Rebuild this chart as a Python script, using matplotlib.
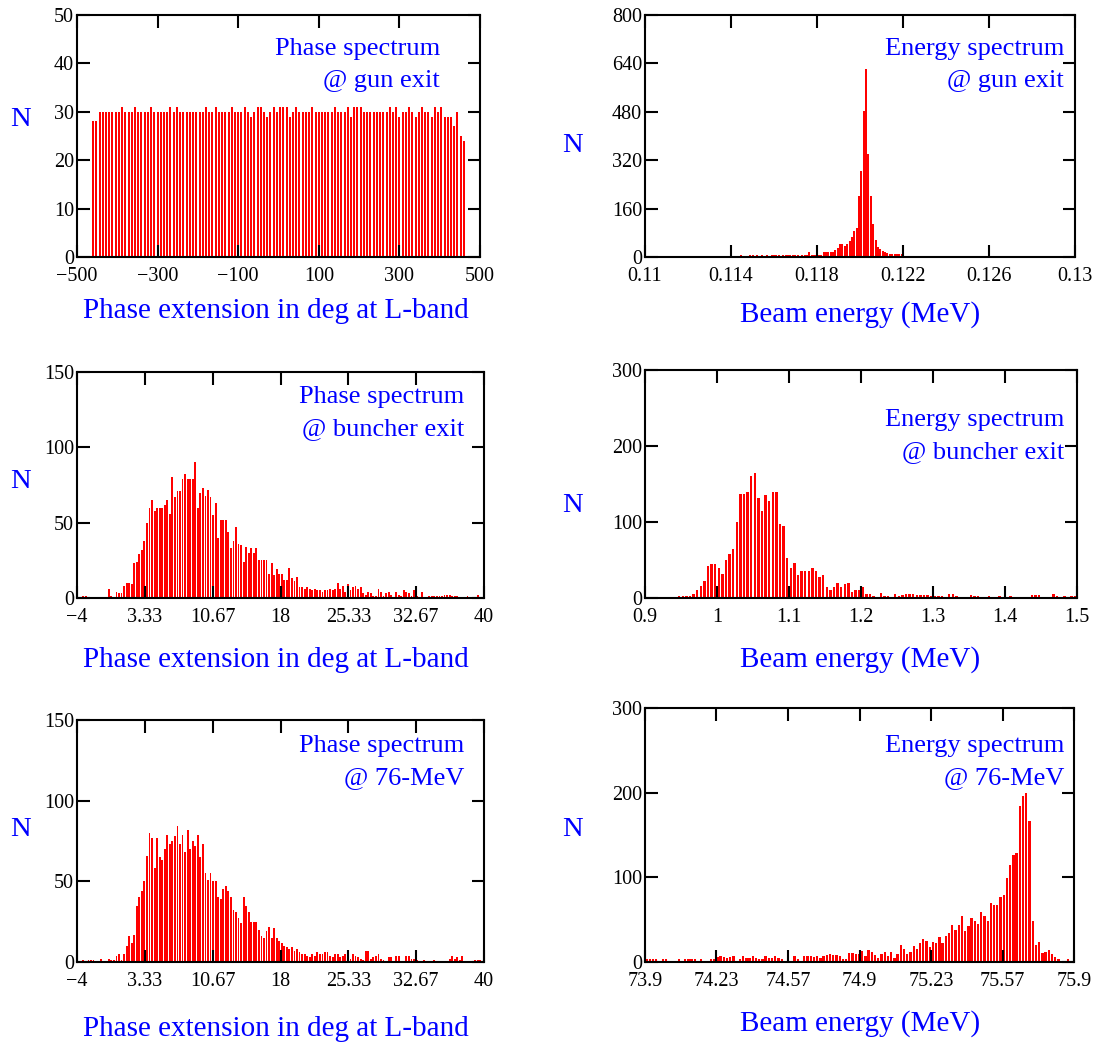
import numpy as np
import matplotlib.pyplot as plt
from matplotlib.ticker import FixedLocator

plt.rcParams['font.family'] = ['Liberation Serif', 'DejaVu Serif']

# ---------------- data: histogram counts per bin ----------------
# Phase at gun exit (deg), bins from -464 with width 8
phase_gun_start, phase_gun_width = -464.0, 8.0
phase_gun_counts = [
    28, 28, 30, 30, 30, 30, 30, 30, 30, 31,
    30, 30, 30, 31, 30, 30, 30, 30, 31, 30,
    30, 30, 30, 30, 31, 30, 31, 30, 30, 30,
    30, 30, 30, 30, 30, 31, 30, 30, 31, 30,
    30, 30, 30, 31, 30, 30, 30, 31, 30, 29,
    30, 31, 31, 30, 29, 30, 31, 30, 31, 31,
    31, 29, 30, 31, 30, 30, 30, 30, 31, 30,
    30, 30, 30, 30, 30, 31, 30, 30, 30, 31,
    29, 31, 31, 31, 30, 30, 30, 30, 30, 30,
    30, 30, 31, 30, 31, 29, 30, 30, 31, 30,
    29, 30, 31, 30, 30, 29, 31, 30, 31, 29,
    29, 29, 27, 30, 25, 24]

# Energy at gun exit (MeV)
energy_gun_start, energy_gun_width = 0.1144, 0.00011
energy_gun_counts = [
    8, 0, 0, 0, 8, 8, 0, 8, 0, 8,
    0, 8, 0, 8, 8, 8, 8, 0, 8, 8,
    8, 8, 8, 8, 8, 0, 8, 8, 8, 16,
    8, 8, 8, 8, 8, 16, 16, 16, 16, 18,
    22, 30, 42, 42, 35, 44, 52, 67, 86, 97,
    203, 283, 483, 622, 342, 203, 109, 56, 33, 28,
    19, 17, 14, 9, 9, 9, 9, 9, 9]

# Phase at buncher exit (deg)
phase_buncher_start, phase_buncher_width = -4.0, 0.275
phase_buncher_counts = [
    0, 0, 1, 1, 0, 0, 0, 0, 0, 0,
    0, 0, 6, 1, 0, 4, 3, 3, 8, 10,
    10, 9, 23, 24, 29, 32, 38, 50, 60, 65,
    58, 60, 60, 60, 62, 65, 56, 80, 67, 71,
    71, 79, 82, 79, 79, 79, 90, 60, 70, 73,
    68, 72, 67, 55, 63, 40, 52, 52, 52, 44,
    33, 38, 47, 36, 35, 24, 34, 30, 33, 30,
    33, 25, 25, 25, 25, 16, 23, 15, 19, 16,
    16, 12, 12, 20, 13, 11, 14, 7, 7, 6,
    7, 6, 5, 6, 5, 5, 4, 5, 5, 6,
    5, 6, 10, 6, 8, 4, 9, 5, 7, 8,
    6, 7, 3, 2, 4, 3, 1, 1, 6, 4,
    1, 3, 4, 2, 0, 4, 2, 1, 5, 4,
    3, 1, 5, 1, 0, 4, 0, 0, 1, 1,
    1, 1, 1, 1, 2, 2, 2, 1, 1, 1,
    0, 0, 0, 1, 0, 0, 0, 2, 0, 0]

# Energy at buncher exit (MeV)
energy_buncher_start, energy_buncher_width = 0.9, 0.005
energy_buncher_counts = [
    0, 0, 0, 0, 0, 0, 0, 0, 0, 2,
    2, 2, 2, 5, 10, 16, 23, 42, 45, 45,
    40, 32, 50, 58, 65, 100, 137, 137, 140, 160,
    164, 132, 115, 135, 127, 140, 140, 97, 95, 52,
    40, 46, 30, 35, 35, 35, 40, 35, 28, 30,
    14, 10, 15, 20, 14, 18, 20, 8, 10, 11,
    14, 5, 5, 3, 0, 6, 3, 2, 1, 5,
    3, 4, 5, 5, 5, 4, 4, 4, 4, 3,
    2, 3, 2, 0, 5, 5, 3, 1, 0, 0,
    4, 2, 3, 1, 0, 3, 1, 0, 3, 1,
    0, 3, 0, 1, 1, 0, 0, 4, 4, 4,
    1, 0, 0, 5, 2, 0, 2, 0, 2, 2]

# Phase at 76 MeV (deg)
phase_76_start, phase_76_width = -4.0, 0.275
phase_76_counts = [
    0, 0, 1, 0, 1, 1, 1, 0, 0, 2,
    0, 0, 2, 1, 1, 4, 5, 1, 5, 10,
    16, 12, 17, 35, 40, 44, 50, 66, 80, 77,
    58, 77, 65, 63, 70, 79, 73, 75, 78, 84,
    73, 79, 68, 82, 70, 75, 72, 79, 65, 73,
    55, 51, 55, 50, 50, 40, 39, 45, 47, 44,
    40, 32, 31, 27, 24, 40, 35, 31, 25, 25,
    25, 20, 16, 15, 19, 22, 15, 21, 15, 13,
    12, 10, 9, 8, 9, 7, 8, 6, 5, 5,
    4, 3, 5, 4, 6, 5, 5, 6, 6, 4,
    3, 5, 5, 3, 4, 5, 3, 2, 5, 4,
    3, 2, 1, 7, 7, 2, 3, 4, 5, 2,
    1, 0, 3, 3, 0, 4, 4, 0, 0, 4,
    4, 2, 2, 1, 0, 0, 1, 0, 0, 0,
    1, 0, 0, 0, 0, 0, 2, 4, 2, 3,
    1, 4, 0, 0, 0, 0, 1, 1, 1, 0]

# Energy at 76 MeV (MeV)
energy_76_start, energy_76_width = 73.9, 0.015
energy_76_counts = [
    3, 3, 3, 3, 0, 3, 3, 0, 0, 0,
    3, 0, 3, 4, 3, 3, 0, 3, 0, 0,
    3, 3, 6, 7, 6, 5, 6, 7, 0, 3,
    7, 5, 5, 7, 5, 3, 3, 7, 5, 5,
    7, 5, 3, 0, 5, 0, 7, 3, 0, 7,
    7, 7, 6, 7, 5, 7, 8, 10, 8, 8,
    7, 3, 4, 11, 11, 9, 10, 13, 7, 14,
    12, 8, 5, 10, 12, 7, 12, 5, 10, 20,
    15, 10, 12, 19, 15, 22, 27, 25, 18, 24,
    22, 30, 22, 31, 34, 44, 38, 44, 54, 37,
    42, 52, 49, 45, 59, 54, 49, 70, 67, 67,
    77, 79, 99, 114, 126, 129, 184, 196, 200, 166,
    49, 20, 24, 11, 12, 14, 9, 6, 3, 0,
    0, 3, 0]

# ---------------- axis ticks ----------------
phase_gun_ticks = [-500, -300, -100, 100, 300, 500]
phase_gun_labels = ['\u2212500', '\u2212300', '\u2212100', '100', '300', '500']
energy_gun_ticks = [0.11, 0.114, 0.118, 0.122, 0.126, 0.13]
energy_gun_labels = ['0.11', '0.114', '0.118', '0.122', '0.126', '0.13']
phase_ticks = [-4, 3.333, 10.667, 18, 25.333, 32.667, 40]
phase_labels = ['\u22124', '3.33', '10.67', '18', '25.33', '32.67', '40']
energy_buncher_ticks = [0.9, 1.0, 1.1, 1.2, 1.3, 1.4, 1.5]
energy_buncher_labels = ['0.9', '1', '1.1', '1.2', '1.3', '1.4', '1.5']
energy_76_ticks = [73.9, 74.233, 74.567, 74.9, 75.233, 75.567, 75.9]
energy_76_labels = ['73.9', '74.23', '74.57', '74.9', '75.23', '75.57', '75.9']

PHASE_LABEL = 'Phase extension in deg at L-band'
ENERGY_LABEL = 'Beam energy (MeV)'

W, H = 1097, 1047
fig = plt.figure(figsize=(W / 100, H / 100), dpi=100)
BLUE = '#0000ff'
RED = '#ff0000'


def add_panel(box, start, width, counts, xlim, ylim, yticks, xticks, xlabels,
              title_lines, title_pos, n_pos, xlabel, xlabel_pos, frac=0.72):
    x0, y0, x1, y1 = box
    ax = fig.add_axes([x0 / W, 1 - y1 / H, (x1 - x0) / W, (y1 - y0) / H])
    counts = np.asarray(counts, dtype=float)
    centers = start + (np.arange(len(counts)) + 0.5) * width
    ax.bar(centers, counts, width=width * frac, color=RED, linewidth=0, zorder=1)
    ax.set_xlim(*xlim)
    ax.set_ylim(*ylim)
    ax.xaxis.set_major_locator(FixedLocator(xticks))
    ax.set_xticklabels(xlabels)
    ax.yaxis.set_major_locator(FixedLocator(yticks))
    ax.set_yticklabels([str(v) for v in yticks])
    ax.tick_params(direction='in', length=9, width=1.5, top=True, right=True,
                   labelsize=14.5, colors='black')
    ax.tick_params(axis='x', pad=7.5)
    ax.tick_params(axis='y', pad=2)
    for sp in ax.spines.values():
        sp.set_linewidth(1.5)
    # caption inside the frame, right aligned
    tx, ty = title_pos
    for i, line in enumerate(title_lines):
        fig.text(tx / W, 1 - (ty + 32 * i) / H, line, color=BLUE, fontsize=19,
                 ha='right', va='center')
    fig.text(n_pos[0] / W, 1 - n_pos[1] / H, 'N', color=BLUE, fontsize=20.5,
             ha='center', va='center')
    fig.text(xlabel_pos[0] / W, 1 - xlabel_pos[1] / H, xlabel, color=BLUE,
             fontsize=21, ha='center', va='center')
    return ax


add_panel((77, 15, 480, 257), phase_gun_start, phase_gun_width, phase_gun_counts,
          (-500, 500), (0, 50), [0, 10, 20, 30, 40, 50],
          phase_gun_ticks, phase_gun_labels,
          ['Phase spectrum', '@ gun exit'], (440, 49), (20, 120),
          PHASE_LABEL, (276, 311), frac=0.62)

add_panel((645, 15, 1075, 257), energy_gun_start, energy_gun_width, energy_gun_counts,
          (0.11, 0.13), (0, 800), [0, 160, 320, 480, 640, 800],
          energy_gun_ticks, energy_gun_labels,
          ['Energy spectrum', '@ gun exit'], (1064, 49), (572, 145),
          ENERGY_LABEL, (860, 315), frac=0.85)

add_panel((77, 372, 484, 598), phase_buncher_start, phase_buncher_width, phase_buncher_counts,
          (-4, 40), (0, 150), [0, 50, 100, 150],
          phase_ticks, phase_labels,
          ['Phase spectrum', '@ buncher exit'], (464, 397), (20, 482),
          PHASE_LABEL, (276, 660))

add_panel((645, 370, 1077, 598), energy_buncher_start, energy_buncher_width, energy_buncher_counts,
          (0.9, 1.5), (0, 300), [0, 100, 200, 300],
          energy_buncher_ticks, energy_buncher_labels,
          ['Energy spectrum', '@ buncher exit'], (1064, 420), (572, 505),
          ENERGY_LABEL, (860, 660))

add_panel((77, 720, 484, 962), phase_76_start, phase_76_width, phase_76_counts,
          (-4, 40), (0, 150), [0, 50, 100, 150],
          phase_ticks, phase_labels,
          ['Phase spectrum', '@ 76-MeV'], (464, 746), (20, 830),
          PHASE_LABEL, (276, 1029))

add_panel((645, 708, 1074, 962), energy_76_start, energy_76_width, energy_76_counts,
          (73.9, 75.9), (0, 300), [0, 100, 200, 300],
          energy_76_ticks, energy_76_labels,
          ['Energy spectrum', '@ 76-MeV'], (1064, 746), (572, 830),
          ENERGY_LABEL, (860, 1024))

fig.savefig('out.png', dpi=100)
